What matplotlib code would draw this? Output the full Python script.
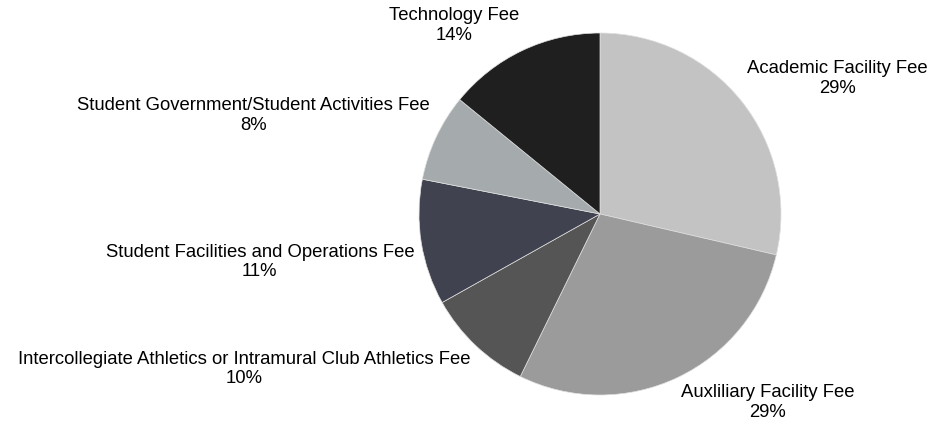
import numpy as np
import matplotlib
matplotlib.use("Agg")
import matplotlib.pyplot as plt

plt.rcParams['font.family'] = ['Liberation Sans', 'DejaVu Sans']

fees = ["Academic Facility Fee", "Auxliliary Facility Fee",
        "Intercollegiate Athletics or Intramural Club Athletics Fee",
        "Student Facilities and Operations Fee",
        "Student Government/Student Activities Fee", "Technology Fee"]
shares = [28.6, 28.6, 9.6, 11.2, 7.8, 14.1]
colors = ["#c3c3c3", "#9b9b9b", "#555555", "#40434f", "#a5aaad", "#1f1f1f"]

fig = plt.figure(figsize=(9.28, 4.23), dpi=100)
ax = fig.add_axes([0.4515, 0.0662, 0.3901, 0.8558])

wedges, _ = ax.pie(shares, colors=colors, startangle=90, counterclock=False,
                   wedgeprops=dict(edgecolor="#e0e0e0", linewidth=0.5))

total = sum(shares)
for w, name, v in zip(wedges, fees, shares):
    mid = np.deg2rad((w.theta1 + w.theta2) / 2)
    x, y = 1.04 * np.cos(mid), 1.04 * np.sin(mid)
    ha = "left" if x > 0 else "right"
    va = "bottom" if y > 0 else "top"
    ax.text(x, y, f"{name}\n{round(v / total * 100):.0f}%", ha=ha, va=va,
            multialignment="center", fontsize=13.3, color="#000000")

ax.set_xlim(-1, 1)
ax.set_ylim(-1, 1)
ax.set_aspect("equal")
ax.axis("off")

fig.savefig("out.png", dpi=100)
